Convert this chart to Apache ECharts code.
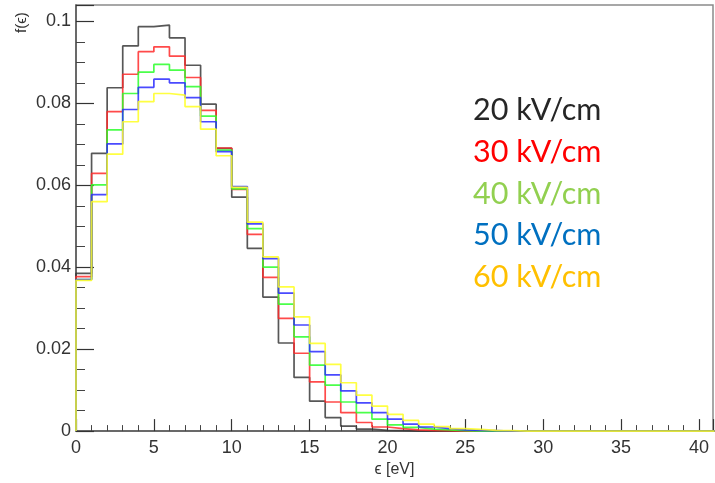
<!DOCTYPE html>
<html>
<head>
<meta charset="utf-8">
<script src="https://cdn.jsdelivr.net/npm/echarts@6/dist/echarts.min.js"></script>
<style>html,body{margin:0;padding:0;background:#fff;}#c{width:715px;height:483px;}</style>
</head>
<body>
<div id="c"></div>
<script>
// Bin contents (bin width 1 eV, starting at 0 eV)
var names = ['20 kV/cm', '30 kV/cm', '40 kV/cm', '50 kV/cm', '60 kV/cm'];
var kv20 = [0.0385,0.0678,0.0838,0.0940,0.0987,0.0991,0.0960,0.0893,0.0798,0.0690,0.0571,0.0446,0.0327,0.0215,0.0131,0.0073,0.0033,0.0012,0.0005,0.0002,0.0001];
var kv30 = [0.0377,0.0629,0.0780,0.0871,0.0926,0.0938,0.0915,0.0863,0.0783,0.0691,0.0590,0.0480,0.0375,0.0275,0.0190,0.0120,0.0071,0.0045,0.0021,0.0010,0.0006,0.0003,0.0002,0.0001];
var kv40 = [0.0370,0.0601,0.0735,0.0824,0.0876,0.0895,0.0881,0.0841,0.0769,0.0686,0.0591,0.0494,0.0400,0.0310,0.0230,0.0161,0.0112,0.0071,0.0045,0.0029,0.0015,0.0009,0.0005,0.0003,0.0001];
var kv50 = [0.0370,0.0577,0.0701,0.0785,0.0839,0.0859,0.0850,0.0814,0.0755,0.0682,0.0597,0.0506,0.0421,0.0337,0.0259,0.0194,0.0137,0.0098,0.0069,0.0045,0.0029,0.0017,0.0010,0.0006,0.0003,0.0002,0.0001];
var kv60 = [0.0368,0.0560,0.0676,0.0755,0.0804,0.0824,0.0820,0.0792,0.0737,0.0672,0.0595,0.0510,0.0425,0.0352,0.0279,0.0214,0.0163,0.0118,0.0088,0.0061,0.0041,0.0026,0.0017,0.0011,0.0006,0.0004,0.0002,0.0001];
var seriesValues = [kv20, kv30, kv40, kv50, kv60];
var lineColors = ['#3a3a3a', '#ff2a2a', '#2aff2a', '#2a2aff', '#ffff20'];
var textColors = ['#262626', '#ff0000', '#92d050', '#0070c0', '#ffc000'];
var nBins = 41;

function histPoints(vals) {
  var pts = [[0, 0]];
  for (var i = 0; i < nBins; i++) {
    var v = i < vals.length ? vals[i] : 0;
    pts.push([i, v]);
  }
  pts.push([nBins, 0]);
  return pts;
}

var series = seriesValues.map(function (vals, k) {
  return {
    name: names[k],
    type: 'line',
    step: 'end',
    showSymbol: false,
    symbol: 'none',
    data: histPoints(vals),
    lineStyle: { color: lineColors[k], width: 1.7, opacity: 0.85 },
    itemStyle: { color: lineColors[k] },
    z: 2 + k,
    animation: false
  };
});

var legendTexts = names.map(function (n, k) {
  return {
    type: 'text',
    left: 473,
    top: 95 + k * 41.7,
    style: { text: n, fill: textColors[k], font: '30.5px Lato, "Open Sans", sans-serif' },
    z: 20
  };
});

var chart = echarts.init(document.getElementById('c'), null, { renderer: 'canvas' });
chart.setOption({
  animation: false,
  backgroundColor: '#ffffff',
  grid: { left: 76, right: 2, top: 5, bottom: 49, show: true, borderColor: '#8a8a8a', borderWidth: 1.5, backgroundColor: 'transparent' },
  xAxis: {
    type: 'value', min: 0, max: 40.9, interval: 5,
    name: 'ϵ [eV]', nameLocation: 'middle', nameGap: 28,
    nameTextStyle: { fontFamily: '"Liberation Sans", Arial, sans-serif', fontSize: 16, color: '#333' },
    axisLine: { show: true, onZero: false, lineStyle: { color: '#555', width: 1.5 } },
    axisTick: { show: true, inside: true, length: 12, lineStyle: { color: '#333', width: 1.2 } },
    minorTick: { show: true, splitNumber: 5, length: 6, lineStyle: { color: '#444', width: 1 } },
    axisLabel: { showMaxLabel: false, margin: 8, fontFamily: '"Liberation Sans", Arial, sans-serif', fontSize: 18, color: '#333' },
    splitLine: { show: false }
  },
  yAxis: {
    type: 'value', min: 0, max: 0.104, interval: 0.02,
    axisLine: { show: true, lineStyle: { color: '#555', width: 1.5 } },
    axisTick: { show: true, inside: true, length: 18, lineStyle: { color: '#333', width: 1.2 } },
    minorTick: { show: true, splitNumber: 4, length: 9, lineStyle: { color: '#444', width: 1 } },
    axisLabel: { showMaxLabel: false, margin: 5, fontFamily: '"Liberation Sans", Arial, sans-serif', fontSize: 18, color: '#333' },
    splitLine: { show: false }
  },
  graphic: legendTexts.concat([{
    type: 'text',
    x: 14, y: 33,
    rotation: Math.PI / 2,
    style: { text: 'f(ϵ)', fill: '#333', font: '15px "Liberation Sans", Arial, sans-serif' }
  }]),
  series: series
});
</script>
</body>
</html>
